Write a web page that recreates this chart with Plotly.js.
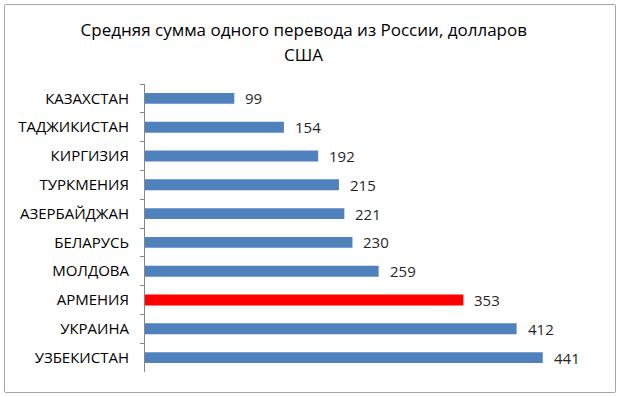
<!DOCTYPE html>
<html><head><meta charset="utf-8">
<script src="https://cdn.plot.ly/plotly-3.0.1.min.js"></script>
<style>
html,body{margin:0;padding:0;background:#fff;}
#wrap{position:relative;width:620px;height:396px;}
#chart{width:620px;height:396px;}
#frame{position:absolute;left:4px;top:4px;width:610px;height:387px;border:1px solid #a6a6a6;border-radius:2px;pointer-events:none;}
</style></head>
<body>
<div id="wrap"><div id="chart"></div><div id="frame"></div></div>
<script>
const countries = ["КАЗАХСТАН","ТАДЖИКИСТАН","КИРГИЗИЯ","ТУРКМЕНИЯ","АЗЕРБАЙДЖАН","БЕЛАРУСЬ","МОЛДОВА","АРМЕНИЯ","УКРАИНА","УЗБЕКИСТАН"];
const amounts = [99,154,192,215,221,230,259,353,412,441];
const highlight = "АРМЕНИЯ";
const titleLine1 = "Средняя сумма одного перевода из России, долларов";
const titleLine2 = "США";

const FONT = "Open Sans, sans-serif";
const colors = countries.map(c => c === highlight ? "#FF0000" : "#4F81BD");

const trace = {
  type: "bar",
  orientation: "h",
  x: amounts,
  y: countries,
  marker: {color: colors, line: {width: 0}},
  hoverinfo: "none"
};

const annotations = countries.map((c, i) => ({
  x: amounts[i], y: c, xref: "x", yref: "y",
  text: String(amounts[i]), showarrow: false,
  xanchor: "left", xshift: 9,
  font: {family: FONT, size: 15, color: "#262626"}
}));
annotations.push({
  x: 0.351, y: 1.104, xref: "paper", yref: "paper", xanchor: "center", yanchor: "middle",
  text: titleLine2, showarrow: false,
  font: {family: FONT, size: 17, color: "#000"}
});

const layout = {
  width: 620, height: 396,
  margin: {l: 145, r: 24, t: 84, b: 24},
  paper_bgcolor: "#fff", plot_bgcolor: "#fff",
  showlegend: false,
  bargap: 0.62,
  title: {text: titleLine1, x: 0.49, xref: "container", xanchor: "center",
          y: 1 - 30/396, yref: "container", yanchor: "middle",
          font: {family: FONT, size: 17, color: "#000"}},
  xaxis: {range: [0, 500], visible: false, showgrid: false, zeroline: false},
  yaxis: {type: "category", autorange: "reversed", showline: true, linecolor: "#868686", linewidth: 1,
          ticks: "outside", ticklen: 4, tickcolor: "#868686", tickson: "boundaries",
          ticklabelstandoff: 12,
          tickfont: {family: FONT, size: 15, color: "#000"}, showgrid: false, zeroline: false},
  annotations: annotations
};

Plotly.newPlot("chart", [trace], layout, {staticPlot: true});
</script>
</body></html>
